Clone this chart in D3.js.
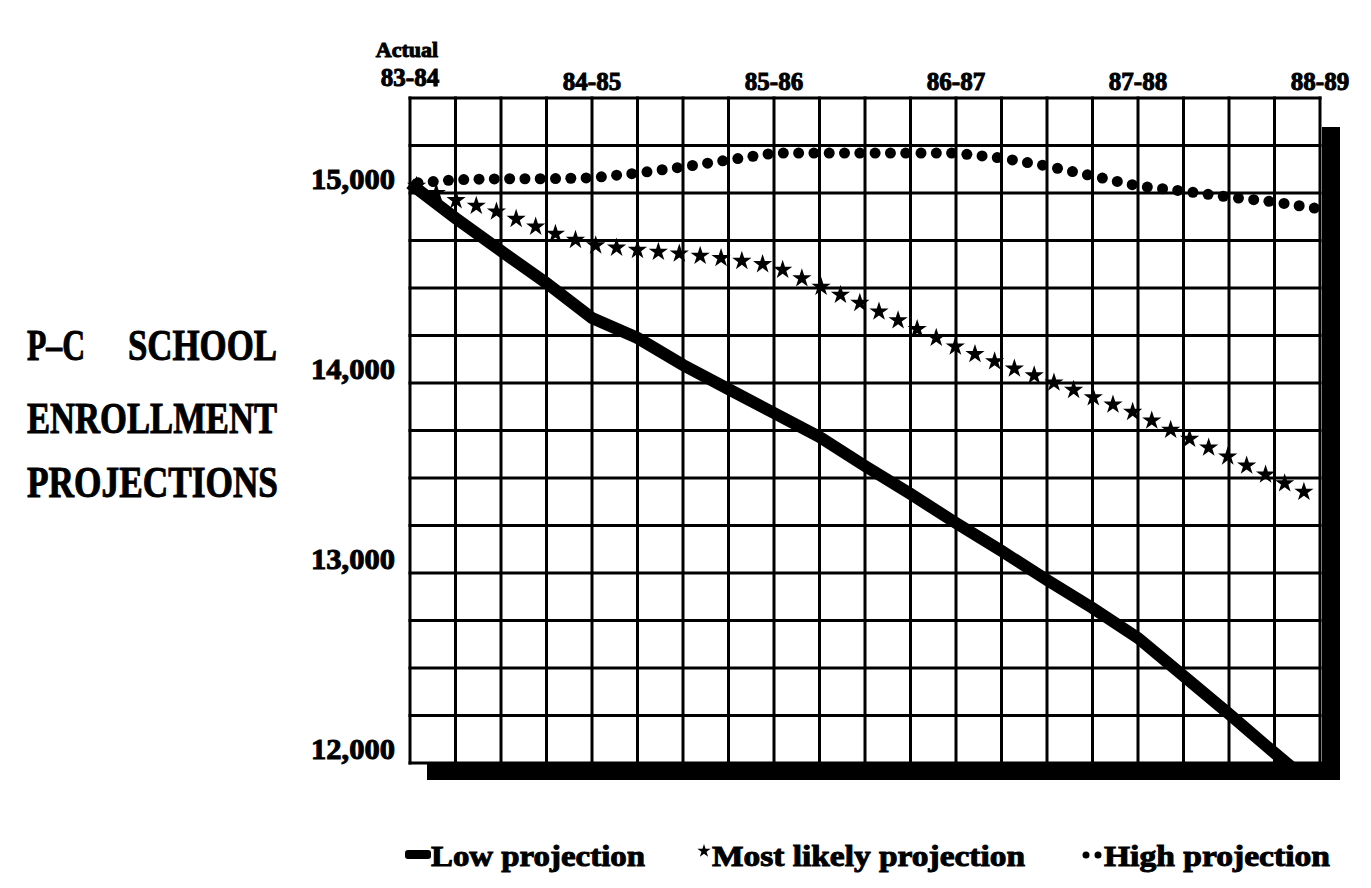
<!DOCTYPE html>
<html>
<head>
<meta charset="utf-8">
<script src="https://cdn.jsdelivr.net/npm/d3@7"></script>
<style>
body{margin:0;background:#fff;}
text{font-family:"Liberation Serif","DejaVu Serif",serif;font-weight:bold;fill:#000;stroke:#000;stroke-width:1px;}
</style>
</head>
<body>
<div id="chart"></div>
<script>
// school years along the top, one grid column per quarter
var yearLabels = ["83-84","84-85","85-86","86-87","87-88","88-89"];
var yTicks = [12000, 13000, 14000, 15000];

// enrollment, one value per quarter (21 points)
var lowProjection = [15050,14868,14695,14526,14342,14237,14095,13968,13842,13716,13563,
                     13416,13263,13116,12963,12816,12658,12458,12258,12053,11853];
var likelyProjection = [15050,14963,14895,14800,14726,14700,14679,14653,14616,14510,14410,
                        14300,14190,14100,14016,13926,13837,13721,13610,13495,13390];
var highProjection = [15050,15070,15075,15075,15080,15105,15137,15174,15210,15210,15210,
                      15210,15210,15184,15142,15090,15037,15010,14979,14953,14916];

var legendItems = ["Low projection","Most likely projection","High projection"];

var width = 1371, height = 888;

var svg = d3.select("#chart")
    .append("svg")
    .attr("width", width)
    .attr("height", height);

var x = d3.scaleLinear()
    .domain([0, 20])
    .range([410, 1320]);

var y = d3.scaleLinear()
    .domain([12000, 15500])
    .range([763, 98]);

// grid
var grid = svg.append("g").style("stroke","#000").style("stroke-width","3px");
grid.selectAll("line.v")
    .data(d3.range(0, 21))
    .enter().append("line")
    .attr("class","v")
    .attr("x1", function(d){return x(d);})
    .attr("x2", function(d){return x(d);})
    .attr("y1", y(15500) - 1.5)
    .attr("y2", y(12000) + 1.5);
grid.selectAll("line.h")
    .data(d3.range(12000, 15501, 250))
    .enter().append("line")
    .attr("class","h")
    .attr("x1", x(0) - 1.5)
    .attr("x2", x(20) + 1.5)
    .attr("y1", function(d){return y(d);})
    .attr("y2", function(d){return y(d);});

// heavy shadow under and right of the grid
svg.append("rect")
    .attr("x", x(0) + 17)
    .attr("y", y(12000) - 1)
    .attr("width", x(20) + 20 - (x(0) + 17))
    .attr("height", 18)
    .style("fill","#000");
svg.append("rect")
    .attr("x", x(20) + 2)
    .attr("y", y(15500) + 29)
    .attr("width", 18)
    .attr("height", y(12000) + 17 - (y(15500) + 29))
    .style("fill","#000");

// y labels
svg.selectAll("text.ylab")
    .data(yTicks)
    .enter().append("text")
    .attr("class","ylab")
    .attr("x", 395)
    .attr("y", function(d){return y(d) - 4;})
    .attr("text-anchor","end")
    .style("font-size","30px")
    .attr("textLength",84).attr("lengthAdjust","spacingAndGlyphs")
    .text(d3.format(","));

// x labels
svg.selectAll("text.xlab")
    .data(yearLabels)
    .enter().append("text")
    .attr("class","xlab")
    .attr("x", function(d,i){return x(i*4);})
    .attr("y", function(d,i){return i == 0 ? y(15500) - 12 : y(15500) - 8;})
    .attr("text-anchor","middle")
    .style("font-size","25px")
    .text(function(d){return d;});
svg.append("text")
    .attr("x", x(0) - 3)
    .attr("y", 57)
    .attr("text-anchor","middle")
    .style("font-size","22px")
    .text("Actual");

// title
var title = svg.append("g").style("font-size","44px").style("stroke-width","1.6px");
title.append("text").attr("x",27).attr("y",360)
    .attr("textLength",58).attr("lengthAdjust","spacingAndGlyphs").text("P–C");
title.append("text").attr("x",128).attr("y",360)
    .attr("textLength",149).attr("lengthAdjust","spacingAndGlyphs").text("SCHOOL");
title.append("text").attr("x",27).attr("y",433)
    .attr("textLength",250).attr("lengthAdjust","spacingAndGlyphs").text("ENROLLMENT");
title.append("text").attr("x",27).attr("y",497)
    .attr("textLength",251).attr("lengthAdjust","spacingAndGlyphs").text("PROJECTIONS");

const line = d3.line()
    .x(function(d,i){return x(i);})
    .y(function(d){return y(d);});

svg.append("clipPath")
    .attr("id","plot")
    .append("rect")
    .attr("x", x(0) - 5)
    .attr("y", 0)
    .attr("width", x(20) - x(0) + 10)
    .attr("height", y(12000));

// low projection: thick solid line
svg.append("path")
    .data([lowProjection])
    .attr("d", line)
    .attr("clip-path","url(#plot)")
    .style("fill","none")
    .style("stroke","#000")
    .style("stroke-width","12px");

// helper: points spaced evenly along a drawn path
function along(node, step, offset){
    var L = node.getTotalLength();
    return d3.range(offset, L, step).map(function(l){return node.getPointAtLength(l);});
}

// most likely: stars
var likelyPath = svg.append("path")
    .data([likelyProjection])
    .attr("d", line)
    .style("fill","none")
    .style("stroke","none");
svg.selectAll("path.star")
    .data(along(likelyPath.node(), 21, 7))
    .enter().append("path")
    .attr("class","star")
    .attr("d", d3.symbol().type(d3.symbolStar).size(115))
    .attr("transform", function(d){return "translate(" + d.x + "," + d.y + ")";})
    .style("fill","#000");

// high: dots
var highPath = svg.append("path")
    .data([highProjection])
    .attr("d", line)
    .style("fill","none")
    .style("stroke","none");
svg.selectAll("circle.dot")
    .data(along(highPath.node(), 15.3, 8))
    .enter().append("circle")
    .attr("class","dot")
    .attr("cx", function(d){return d.x;})
    .attr("cy", function(d){return d.y;})
    .attr("r", 5.5)
    .style("fill","#000");

// legend
var legY = 866;
var legend = svg.append("g").style("font-size","30px").style("stroke-width","1.4px");
legend.append("rect").attr("x",405).attr("y",legY - 16).attr("width",26).attr("height",9).attr("rx",3).style("fill","#000").style("stroke","none");
legend.append("text").attr("x",431).attr("y",legY)
    .attr("textLength",214).attr("lengthAdjust","spacingAndGlyphs").text(legendItems[0]);
legend.append("path")
    .attr("d", d3.symbol().type(d3.symbolStar).size(55))
    .attr("transform","translate(704," + (legY - 15) + ")")
    .style("fill","#000");
legend.append("text").attr("x",712).attr("y",legY)
    .attr("textLength",313).attr("lengthAdjust","spacingAndGlyphs").text(legendItems[1]);
legend.selectAll("circle.legdot")
    .data([1086, 1098])
    .enter().append("circle")
    .attr("class","legdot")
    .attr("cx", function(d){return d;})
    .attr("cy", legY - 11)
    .attr("r", 3.5)
    .style("fill","#000");
legend.append("text").attr("x",1104).attr("y",legY)
    .attr("textLength",226).attr("lengthAdjust","spacingAndGlyphs").text(legendItems[2]);
</script>
</body>
</html>
